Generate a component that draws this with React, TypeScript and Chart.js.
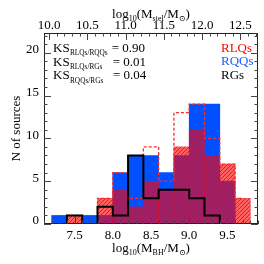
import React, { useEffect, useRef } from 'react';
import { Chart, registerables } from 'chart.js';
Chart.register(...registerables);

// ---- data ----
const binCenters = [7.3, 7.5, 7.7, 7.9, 8.1, 8.3, 8.5, 8.7, 8.9, 9.1, 9.3, 9.5, 9.7];
const rqqCounts = [1, 0, 1, 1, 6, 8, 8, 6, 8, 14, 14, 5, 0];
const rlqCounts = [0, 1, 0, 3, 4, 2, 5, 4, 9, 11, 8, 7, 3];
const rlqAltCounts = [0, 1, 0, 3, 6, 3, 9, 5, 13, 14, 10, 7, 3];
const rgCenters = [7.3, 7.5, 7.7, 7.9, 8.1, 8.3, 8.5, 8.7, 8.9, 9.1, 9.3, 9.5];
const rgCounts = [0, 1, 0, 2, 1, 8, 3, 4, 4, 3, 1, 0];

const xMin = 7.1;
const xMax = 9.9;
const xTopMin = 9.932;
const xTopMax = 12.732;
const yMin = 0;
const yMax = 22.3;

const ksPairs = ['RLQs/RQQs', 'RLQs/RGs', 'RQQs/RGs'];
const ksValues = ['0.90', '0.01', '0.04'];
const legendNames = ['RLQs', 'RQQs', 'RGs'];
const legendColors = ['#ff0000', '#1a5cff', '#000000'];

const SERIF = '"Liberation Serif", "DejaVu Serif", serif';
const BLUE = '#0050ff';

function makeHatch(): CanvasPattern | string {
  const c = document.createElement('canvas');
  c.width = 4;
  c.height = 4;
  const g = c.getContext('2d');
  if (!g) return 'rgba(255,0,0,0.65)';
  g.fillStyle = 'rgba(255,0,0,0.62)';
  g.fillRect(0, 0, 4, 4);
  g.strokeStyle = 'rgba(255,10,10,0.92)';
  g.lineWidth = 1;
  g.beginPath();
  g.moveTo(0, 4); g.lineTo(4, 0);
  g.moveTo(-1, 1); g.lineTo(1, -1);
  g.moveTo(3, 5); g.lineTo(5, 3);
  g.stroke();
  return g.createPattern(c, 'repeat') || 'rgba(255,0,0,0.65)';
}

type Part = { t: string; sub?: boolean };
function drawRich(ctx: CanvasRenderingContext2D, parts: Part[], x: number, y: number, size: number, subSize: number, drop: number, align: 'left' | 'center', color: string) {
  let w = 0;
  for (const p of parts) {
    ctx.font = `${p.sub ? subSize : size}px ${SERIF}`;
    w += ctx.measureText(p.t).width;
  }
  let cx = align === 'center' ? x - w / 2 : x;
  ctx.fillStyle = color;
  ctx.textAlign = 'left';
  ctx.textBaseline = 'alphabetic';
  for (const p of parts) {
    ctx.font = `${p.sub ? subSize : size}px ${SERIF}`;
    ctx.fillText(p.t, cx, p.sub ? y + drop : y);
    cx += ctx.measureText(p.t).width;
  }
}

const decor = {
  id: 'decor',
  afterDraw(chart: any) {
    const { ctx, chartArea: a, scales } = chart;
    ctx.save();
    // frame
    ctx.strokeStyle = '#222';
    ctx.lineWidth = 1;
    ctx.strokeRect(a.left + 0.5, a.top + 0.5, a.right - a.left - 1, a.bottom - a.top - 1);
    ctx.strokeStyle = '#444';
    ctx.beginPath();
    const xs = scales.x;
    for (let i = Math.ceil(xMin * 10 - 1e-6); i <= Math.floor(xMax * 10 + 1e-6); i++) {
      const px = Math.round(xs.getPixelForValue(i / 10)) + 0.5;
      const len = i % 5 === 0 ? 7 : 3.5;
      ctx.moveTo(px, a.bottom);
      ctx.lineTo(px, a.bottom - len);
    }
    const xt = scales.x2;
    for (let i = Math.ceil(xTopMin * 10 - 1e-6); i <= Math.floor(xTopMax * 10 + 1e-6); i++) {
      const px = Math.round(xt.getPixelForValue(i / 10)) + 0.5;
      const len = i % 5 === 0 ? 7 : 3.5;
      ctx.moveTo(px, a.top);
      ctx.lineTo(px, a.top + len);
    }
    const ys = scales.y;
    for (let i = Math.ceil(yMin); i <= Math.floor(yMax); i++) {
      const py = Math.round(ys.getPixelForValue(i)) + 0.5;
      const len = i % 5 === 0 ? 7 : 3.5;
      ctx.moveTo(a.left, py);
      ctx.lineTo(a.left + len, py);
      ctx.moveTo(a.right, py);
      ctx.lineTo(a.right - len, py);
    }
    ctx.stroke();

    // KS annotations
    const baselines = [51.7, 65.5, 79.3];
    const eqX = [111.7, 112.7, 113];
    ksPairs.forEach((pair, i) => {
      const yb = baselines[i];
      ctx.fillStyle = '#000';
      ctx.textAlign = 'left';
      ctx.textBaseline = 'alphabetic';
      ctx.font = `13px ${SERIF}`;
      ctx.fillText('KS', 53, yb);
      ctx.font = `7.3px ${SERIF}`;
      ctx.fillText(pair, 70, yb + 3.3);
      ctx.font = `13px ${SERIF}`;
      ctx.fillText('= ' + ksValues[i], eqX[i], yb);
    });
    // legend texts
    legendNames.forEach((name, i) => {
      ctx.fillStyle = legendColors[i];
      ctx.font = `13px ${SERIF}`;
      ctx.textAlign = 'left';
      ctx.fillText(name, 221, [51.7, 65.2, 78.6][i]);
    });

    // axis titles
    const cx = (a.left + a.right) / 2;
    drawRich(ctx, [
      { t: 'log' }, { t: '10', sub: true }, { t: '(M' }, { t: 'BH', sub: true }, { t: '/M' }, { t: '\u2299', sub: true }, { t: ')' },
    ], cx, 252.3, 13, 8, 3, 'center', '#000');
    drawRich(ctx, [
      { t: 'log' }, { t: '10', sub: true }, { t: '(M' }, { t: 'stel', sub: true }, { t: '/M' }, { t: '\u2299', sub: true }, { t: ')' },
    ], cx, 18.3, 13, 8, 3, 'center', '#000');

    ctx.save();
    ctx.translate(20, (a.top + a.bottom) / 2);
    ctx.rotate(-Math.PI / 2);
    ctx.font = `13px ${SERIF}`;
    ctx.fillStyle = '#000';
    ctx.textAlign = 'center';
    ctx.textBaseline = 'alphabetic';
    ctx.fillText('N of sources', 0, 0);
    ctx.restore();

    ctx.restore();
  },
};

export default function App() {
  const ref = useRef<HTMLCanvasElement>(null);
  useEffect(() => {
    const canvas = ref.current;
    if (!canvas) return;
    const hatch = makeHatch();
    const tickFont = { family: SERIF, size: 13 };
    const noGrid = { display: false, drawTicks: false, tickLength: 0 };
    const chart = new Chart(canvas, {
      type: 'bar',
      data: {
        datasets: [
          {
            type: 'line',
            label: 'RGs',
            data: rgCenters.map((x, i) => ({ x, y: rgCounts[i] })),
            stepped: 'middle',
            borderColor: '#000',
            borderWidth: 2,
            pointRadius: 0,
            fill: false,
            order: 1,
          } as any,
          {
            type: 'line',
            label: 'RLQs (all)',
            data: binCenters.map((x, i) => ({ x, y: rlqAltCounts[i] })),
            stepped: 'middle',
            borderColor: '#ff2a2a',
            borderWidth: 1.3,
            borderDash: [3, 2],
            pointRadius: 0,
            fill: false,
            order: 2,
          } as any,
          {
            type: 'bar',
            label: 'RLQs',
            data: binCenters.map((x, i) => ({ x, y: rlqCounts[i] })),
            backgroundColor: hatch,
            borderWidth: 0,
            grouped: false,
            barPercentage: 1,
            categoryPercentage: 1,
            order: 3,
          } as any,
          {
            type: 'bar',
            label: 'RQQs',
            data: binCenters.map((x, i) => ({ x, y: rqqCounts[i] })),
            backgroundColor: BLUE,
            borderWidth: 0,
            grouped: false,
            barPercentage: 1,
            categoryPercentage: 1,
            order: 4,
          } as any,
        ],
      },
      options: {
        animation: false,
        responsive: false,
        layout: { padding: { left: 0, right: 6, top: 0, bottom: 0 } },
        plugins: { legend: { display: false }, tooltip: { enabled: false } },
        scales: {
          x: {
            type: 'linear',
            position: 'bottom',
            offset: false,
            min: xMin,
            max: xMax,
            grid: noGrid,
            border: { display: false },
            ticks: {
              stepSize: 0.5,
              includeBounds: false,
              maxRotation: 0,
              autoSkip: false,
              padding: 4,
              color: '#000',
              font: tickFont,
              callback: (v: any) => Number(v).toFixed(1),
            },
            afterFit: (s: any) => { s.height = 40; },
          },
          x2: {
            type: 'linear',
            position: 'top',
            offset: false,
            min: xTopMin,
            max: xTopMax,
            grid: noGrid,
            border: { display: false },
            ticks: {
              stepSize: 0.5,
              includeBounds: false,
              maxRotation: 0,
              autoSkip: false,
              padding: 0,
              color: '#000',
              font: tickFont,
              callback: (v: any) => Number(v).toFixed(1),
            },
            afterFit: (s: any) => { s.height = 33; },
          },
          y: {
            type: 'linear',
            offset: false,
            min: yMin,
            max: yMax,
            grid: noGrid,
            border: { display: false },
            ticks: {
              stepSize: 5,
              includeBounds: false,
              padding: 5,
              labelOffset: -3,
              color: '#000',
              font: tickFont,
              callback: (v: any) => String(Math.round(Number(v))),
            },
            afterFit: (s: any) => { s.width = 44; },
          },
        },
      } as any,
      plugins: [decor],
    });
    return () => chart.destroy();
  }, []);
  return (
    <div style={{ position: 'fixed', left: 0, top: 0, width: 264, height: 264, background: '#fff' }}>
      <canvas ref={ref} width={264} height={264} style={{ display: 'block' }} />
    </div>
  );
}
